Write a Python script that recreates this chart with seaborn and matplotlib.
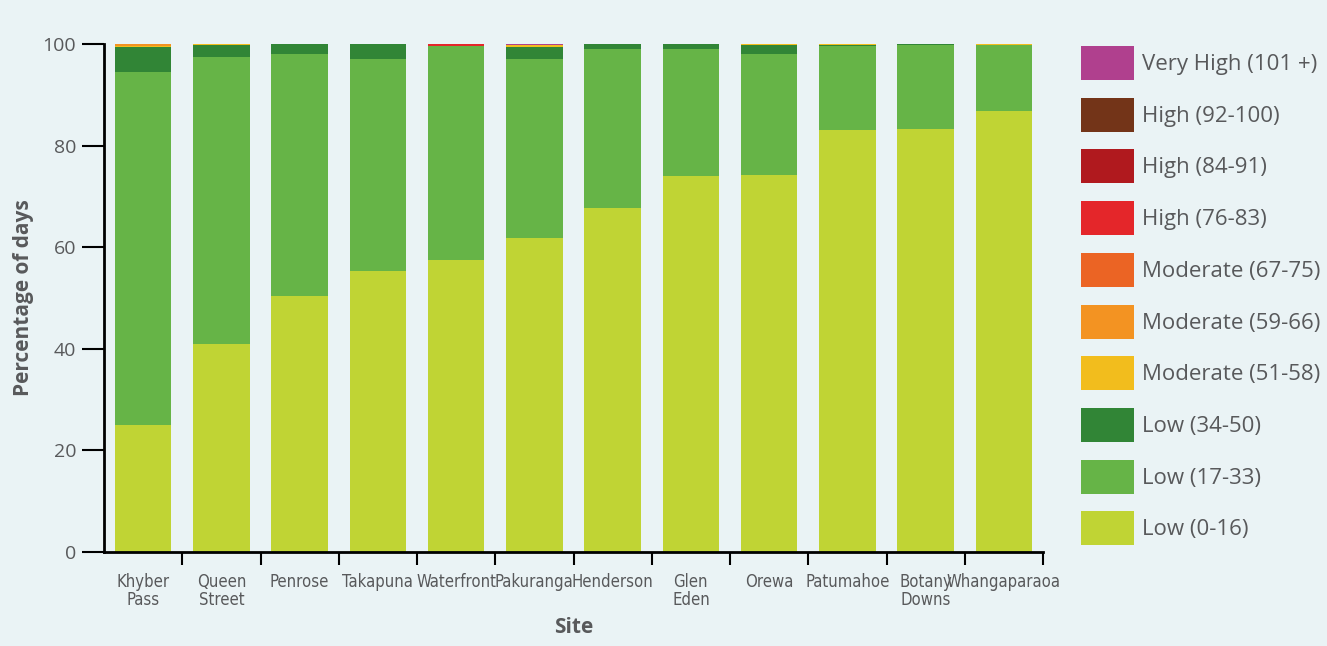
import numpy as np
import pandas as pd
import seaborn as sns
import matplotlib.pyplot as plt
from matplotlib.patches import Patch

# sites along the x axis
sites = ["Khyber\nPass", "Queen\nStreet", "Penrose", "Takapuna", "Waterfront", "Pakuranga",
         "Henderson", "Glen\nEden", "Orewa", "Patumahoe", "Botany\nDowns", "Whangaparaoa"]

# percentage of days in each band (bottom to top)
low_0_16 = [25.0, 40.9, 50.4, 55.3, 57.5, 61.8, 67.7, 74.0, 74.2, 83.1, 83.3, 86.8]
low_17_33 = [69.5, 56.5, 47.6, 41.7, 42.2, 35.2, 31.3, 25.0, 23.8, 16.5, 16.5, 13.0]
low_34_50 = [5.0, 2.4, 2.0, 3.0, 0.0, 2.4, 1.0, 1.0, 1.8, 0.2, 0.2, 0.0]
mod_51_58 = [0.2, 0.2, 0.0, 0.0, 0.0, 0.4, 0.0, 0.0, 0.2, 0.2, 0.0, 0.2]
mod_59_66 = [0.3, 0.0, 0.0, 0.0, 0.0, 0.0, 0.0, 0.0, 0.0, 0.0, 0.0, 0.0]
mod_67_75 = [0.0] * 12
high_76_83 = [0.0, 0.0, 0.0, 0.0, 0.3, 0.1, 0.0, 0.0, 0.0, 0.0, 0.0, 0.0]
high_84_91 = [0.0] * 12
high_92_100 = [0.0] * 12
very_high = [0.0, 0.0, 0.0, 0.0, 0.0, 0.1, 0.0, 0.0, 0.0, 0.0, 0.0, 0.0]

bands = ["Low (0-16)", "Low (17-33)", "Low (34-50)", "Moderate (51-58)", "Moderate (59-66)",
         "Moderate (67-75)", "High (76-83)", "High (84-91)", "High (92-100)", "Very High (101 +)"]
colors = ["#C0D434", "#66B447", "#318536", "#F2BD1D", "#F39322",
          "#EB6424", "#E4262A", "#B0191E", "#733418", "#B0408E"]

df = pd.DataFrame(
    np.array([low_0_16, low_17_33, low_34_50, mod_51_58, mod_59_66, mod_67_75,
              high_76_83, high_84_91, high_92_100, very_high]).T,
    index=sites, columns=bands)
cum = df.cumsum(axis=1)

bg = "#EAF3F5"
grey = "#58595B"

sns.set_style("white")
plt.rcParams['font.family'] = ['Open Sans', 'DejaVu Sans']

fig = plt.figure(figsize=(13.27, 6.46), dpi=100, facecolor=bg)
ax = fig.add_axes([104 / 1327, 94 / 646, 939 / 1327, 508 / 646])
ax.set_facecolor(bg)

# draw cumulative totals from the top band down so each layer covers the next
for band, col in zip(bands[::-1], colors[::-1]):
    sns.barplot(x=sites, y=cum[band].values, order=sites, color=col, saturation=1,
                width=0.72, linewidth=0, ax=ax)

ax.set_ylim(0, 100)
ax.set_xlim(-0.5, 11.5)
ax.set_yticks([0, 20, 40, 60, 80, 100])
ax.tick_params(axis='y', length=16, width=1.5, color='black', labelsize=14,
               labelcolor=grey, pad=4, left=True)
ax.set_xticks(range(12))
ax.set_xticklabels(sites, fontsize=12, color=grey, linespacing=1.0,
                   family='DejaVu Sans', fontstretch='condensed')
ax.tick_params(axis='x', which='major', length=0, pad=15)
ax.set_xticks(np.arange(0.5, 12, 1), minor=True)
ax.tick_params(axis='x', which='minor', length=9, width=1.5, color='black', bottom=True)

for s in ['top', 'right']:
    ax.spines[s].set_visible(False)
for s in ['left', 'bottom']:
    ax.spines[s].set_linewidth(2)
    ax.spines[s].set_color('black')

ax.set_ylabel("Percentage of days", fontsize=15, fontweight='bold', color=grey, labelpad=6)
ax.set_xlabel("Site", fontsize=15, fontweight='bold', color=grey, labelpad=6)

handles = [Patch(facecolor=c, edgecolor='none') for c in colors[::-1]]
fs = 16
fpx = fs * 100 / 72
# handleheight chosen so the drawn patch is ~34 px tall
hh = (34 / fpx - 0.245) / 0.65
ax.legend(handles, bands[::-1], loc='upper left',
          bbox_to_anchor=(1081 / 1327, 1 - 46 / 646), bbox_transform=fig.transFigure,
          frameon=False, fontsize=fs, labelcolor=grey, borderpad=0, borderaxespad=0,
          handlelength=53 / fpx, handleheight=hh, labelspacing=(51.7 - 34) / fpx,
          handletextpad=8 / fpx)

fig.savefig("out.png", dpi=100, facecolor=bg)
